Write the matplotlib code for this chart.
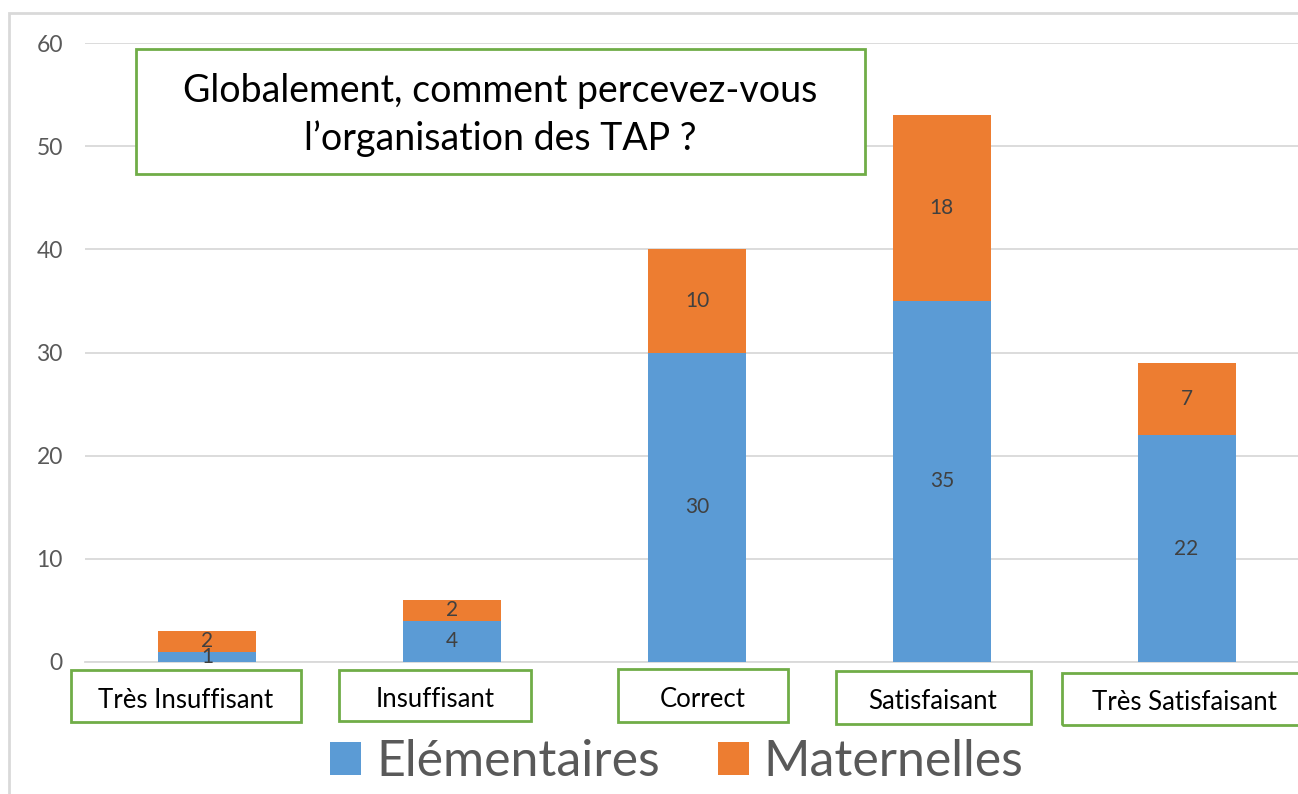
import numpy as np
import matplotlib
matplotlib.use("Agg")
import matplotlib.pyplot as plt
from matplotlib.patches import Rectangle

categories = ["Très Insuffisant", "Insuffisant", "Correct", "Satisfaisant", "Très Satisfaisant"]
elementaires = [1, 4, 30, 35, 22]
maternelles = [2, 2, 10, 18, 7]
series_names = ["Elémentaires", "Maternelles"]
title = "Globalement, comment percevez-vous\nl\u2019organisation des TAP ?"

BLUE = "#5B9BD5"
ORANGE = "#ED7D31"
GREEN = "#70AD47"
GRID = "#D9D9D9"
TXT = "#595959"

W, H = 1298, 794
plt.rcParams["font.family"] = ["Lato", "DejaVu Sans"]


def fx(x):
    return x / W


def fy(y):
    return 1 - y / H


fig = plt.figure(figsize=(W / 100, H / 100), dpi=100)
ax = fig.add_axes([fx(85), fy(662), (1309 - 85) / W, (662 - 43) / H])

x = np.arange(len(categories))
b1 = ax.bar(x, elementaires, width=0.4, color=BLUE, zorder=3)
b2 = ax.bar(x, maternelles, width=0.4, bottom=elementaires, color=ORANGE, zorder=3)

# value labels (the 1 and 2 of the first bar overlap in the original too)
for i in range(len(x)):
    ax.text(x[i], elementaires[i] / 2, str(elementaires[i]), ha="center", va="center",
            fontsize=15, color="#404040", zorder=4)
    ax.text(x[i], elementaires[i] + maternelles[i] / 2, str(maternelles[i]), ha="center",
            va="center", fontsize=15, color="#404040", zorder=4)

ax.set_xlim(-0.5, 4.5)
ax.set_ylim(0, 60)
ax.set_yticks(range(0, 61, 10))
ax.tick_params(axis="y", length=0, labelsize=16.5, labelcolor=TXT, pad=16)
ax.set_xticks([])
ax.grid(axis="y", color=GRID, lw=1.3, zorder=0)
for s in ["top", "right", "left"]:
    ax.spines[s].set_visible(False)
ax.spines["bottom"].set_color(GRID)
ax.spines["bottom"].set_linewidth(1.3)

# outer chart frame
fig.add_artist(Rectangle((fx(9), fy(820)), 1.1, (820 - 13) / H, transform=fig.transFigure,
                         fill=False, edgecolor=GRID, lw=2))

# title box
fig.add_artist(Rectangle((fx(136), fy(174)), (865 - 136) / W, (174 - 49) / H,
                         transform=fig.transFigure, facecolor="white", edgecolor=GREEN,
                         lw=2, zorder=5))
fig.text(fx(500), fy(115), title, ha="center", va="center", fontsize=27,
         color="black", linespacing=1.4, zorder=6)

# category label boxes
boxes = [(71, 670, 301, 722), (339, 670, 531, 721), (618, 669, 788, 722),
         (836, 671, 1031, 724), (1062, 673, 1310, 725)]
text_cx = [186, 435, 703, 933, 1184]
for (l, t, r, b), cx, lab in zip(boxes, text_cx, categories):
    fig.add_artist(Rectangle((fx(l), fy(b)), (r - l) / W, (b - t) / H,
                             transform=fig.transFigure, fill=False, edgecolor=GREEN, lw=2))
    fig.text(fx(cx), fy((t + b) / 2 + 4), lab, ha="center", va="center", fontsize=18.5,
             color="black")

fig.legend([b1, b2], series_names, loc="center", bbox_to_anchor=(fx(677), fy(762)),
           ncol=2, frameon=False, fontsize=36, handlelength=0.62, handleheight=0.62,
           handletextpad=0.3, columnspacing=1.15, labelcolor=TXT)

fig.savefig("out.png", dpi=100)
